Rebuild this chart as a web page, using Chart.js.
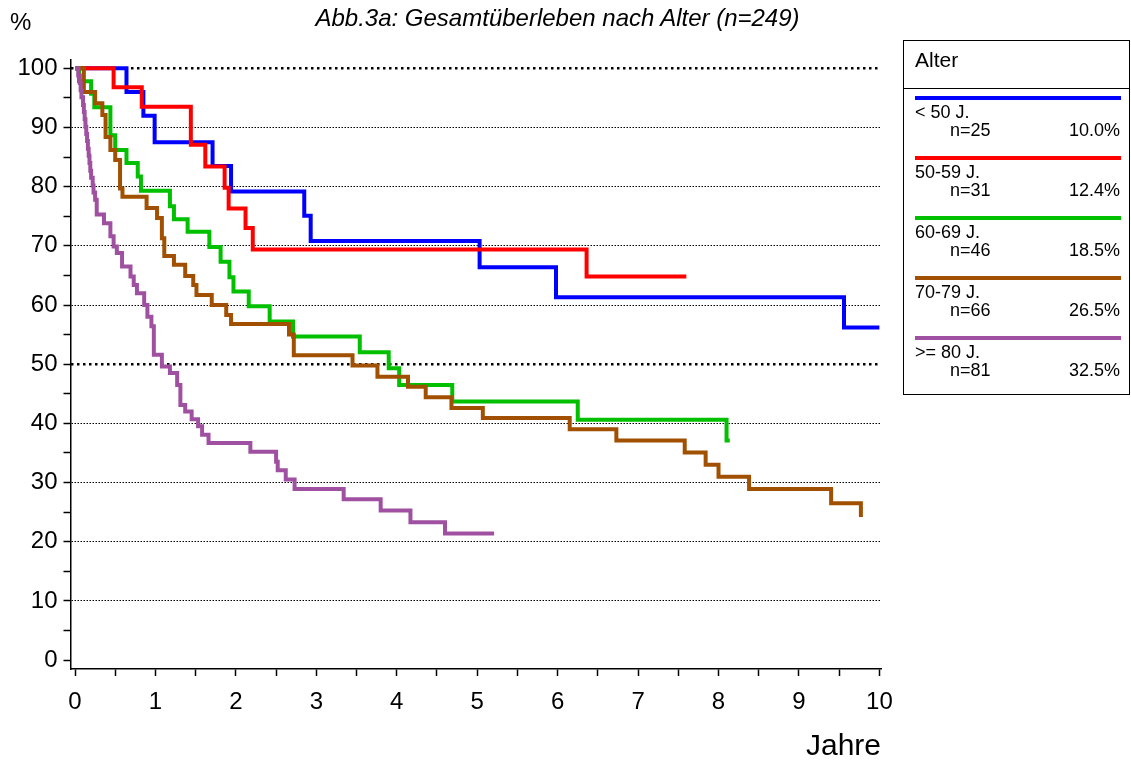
<!DOCTYPE html>
<html>
<head>
<meta charset="utf-8">
<title>Abb.3a Gesamtüberleben nach Alter</title>
<script src="https://cdn.jsdelivr.net/npm/chart.js@4.4.0/dist/chart.umd.min.js"></script>
<style>
body { margin: 0; background: #fff; }
#wrap { position: relative; width: 1131px; height: 765px; overflow: hidden; }
#wrap canvas { position: absolute; left: 0; top: 0; }
.narrow { font-family: 'Liberation Sans', Arial, sans-serif; color: #000; }
#pct { position: absolute; left: 10px; top: 8px; font-size: 24px; }
#title { position: absolute; left: 0; width: 1115px; top: 4px; text-align: center; font-size: 24px; font-style: italic; }
#legend { position: absolute; left: 903px; top: 40px; width: 225px; height: 353px; border: 1.5px solid #000;
          font-family: 'Liberation Sans', Arial, sans-serif; color: #000; }
#legend .head { position: absolute; left: 11px; top: 7px; font-size: 21px; }
#legend .sep { position: absolute; left: 0; right: 0; top: 47px; border-top: 1.5px solid #000; }
#legend .line { position: absolute; left: 11px; width: 206px; height: 4px; }
#legend .lab { position: absolute; left: 11px; font-size: 18px; }
#legend .n { position: absolute; left: 46px; font-size: 18px; }
#legend .p { position: absolute; right: 9px; font-size: 18px; }
</style>
</head>
<body>
<div id="wrap">
  <canvas id="km" width="1131" height="765"></canvas>
  <div id="pct" class="narrow">%</div>
  <div id="title" class="narrow">Abb.3a: Gesamtüberleben nach Alter (n=249)</div>
  <div id="legend"><div class="head">Alter</div><div class="sep"></div></div>
</div>
<script>
// Gruppen (Alter)
const groupLabels = ['< 50 J.', '50-59 J.', '60-69 J.', '70-79 J.', '>= 80 J.'];
const groupN = [25, 31, 46, 66, 81];
const groupPct = ['10.0%', '12.4%', '18.5%', '26.5%', '32.5%'];
const groupColors = ['#0000ff', '#ff0000', '#00c000', '#a05000', '#a050a0'];

// Achsen
const xTicks = [0, 0.5, 1, 1.5, 2, 2.5, 3, 3.5, 4, 4.5, 5, 5.5, 6, 6.5, 7, 7.5, 8, 8.5, 9, 9.5, 10];
const yTicks = [0, 5, 10, 15, 20, 25, 30, 35, 40, 45, 50, 55, 60, 65, 70, 75, 80, 85, 90, 95, 100];
const yBoldLines = [50, 100];

// Kaplan-Meier Stufen (Jahre / % Ueberleben)
const timeU50 = [0, 0.64, 0.85, 0.99, 1.71, 1.94, 2.85, 2.93, 5.03, 5.98, 9.56, 10.0];
const survU50 = [100, 96.0, 92.0, 87.5, 83.5, 79.2, 75.1, 70.8, 66.4, 61.3, 56.2, 56.2];

const time50 = [0, 0.48, 0.83, 1.44, 1.62, 1.86, 1.91, 2.12, 2.21, 6.36, 7.60];
const surv50 = [100, 96.8, 93.5, 87.1, 83.4, 79.8, 76.3, 73.0, 69.4, 64.8, 64.8];

const time60 = [0, 0.05, 0.20, 0.24, 0.44, 0.50, 0.64, 0.78, 0.82, 1.18, 1.23, 1.40, 1.67, 1.81, 1.92, 1.97,
                2.16, 2.42, 2.71, 3.54, 3.90, 4.03, 4.69, 6.25, 8.10, 8.14];
const surv60 = [100, 97.8, 95.7, 93.4, 88.7, 86.2, 84.0, 81.7, 79.3, 76.7, 74.5, 72.4, 69.8, 67.3, 64.7, 62.3,
                59.8, 57.2, 54.7, 52.0, 49.3, 46.5, 43.7, 40.6, 37.1, 37.1];

const time70 = [0, 0.11, 0.25, 0.34, 0.38, 0.44, 0.50, 0.56, 0.59, 0.89, 1.02, 1.08, 1.11, 1.23, 1.37, 1.47,
                1.51, 1.70, 1.88, 1.94, 2.66, 2.72, 3.45, 3.76, 4.14, 4.36, 4.68, 5.07, 6.15, 6.73, 7.58, 7.84,
                8.00, 8.38, 9.40, 9.77];
const surv70 = [100, 96.0, 94.1, 92.1, 88.4, 86.2, 84.5, 79.7, 78.3, 76.4, 74.7, 71.3, 68.3, 66.8, 64.9, 63.4,
                61.7, 60.0, 58.3, 56.8, 55.0, 51.5, 49.8, 47.9, 46.2, 44.4, 42.6, 40.9, 39.0, 37.1, 35.1, 33.0,
                31.0, 28.9, 26.5, 24.2];

const time80 = [0, 0.04, 0.06, 0.07, 0.08, 0.10, 0.11, 0.12, 0.13, 0.14, 0.15, 0.16, 0.17, 0.18, 0.19, 0.20,
                0.22, 0.23, 0.25, 0.27, 0.36, 0.44, 0.48, 0.52, 0.585, 0.69, 0.73, 0.77, 0.86, 0.90, 0.95, 0.98,
                1.08, 1.18, 1.27, 1.31, 1.37, 1.45, 1.53, 1.58, 1.66, 2.18, 2.50, 2.52, 2.62, 2.73, 3.34, 3.80,
                4.17, 4.60, 5.21];
const surv80 = [100, 98.8, 97.5, 96.3, 95.1, 93.8, 92.6, 91.4, 90.1, 88.9, 87.7, 86.4, 85.2, 84.0, 82.7, 81.5,
                80.2, 79.0, 77.8, 75.3, 73.8, 71.6, 69.9, 68.8, 66.5, 64.8, 63.4, 62.0, 60.0, 58.0, 56.4, 51.6,
                49.6, 48.5, 46.5, 43.1, 42.0, 40.7, 39.5, 38.1, 36.7, 35.2, 33.5, 32.1, 30.5, 28.9, 27.2, 25.3,
                23.3, 21.4, 21.4];

const allTimes = [timeU50, time50, time60, time70, time80];
const allSurv = [survU50, surv50, surv60, surv70, surv80];

function toPoints(t, s) {
    return t.map(function (v, i) { return {x: v, y: s[i]}; });
}

// Legende als HTML
var legend = document.getElementById('legend');
groupLabels.forEach(function (lab, i) {
    var top = 55 + i * 60;
    legend.insertAdjacentHTML('beforeend',
        '<div class="line" style="top:' + top + 'px;background:' + groupColors[i] + '"></div>' +
        '<div class="lab" style="top:' + (top + 6) + 'px">' + lab.replace('<', '&lt;').replace('>', '&gt;') + '</div>' +
        '<div class="n" style="top:' + (top + 24) + 'px">n=' + groupN[i] + '</div>' +
        '<div class="p" style="top:' + (top + 24) + 'px">' + groupPct[i] + '</div>');
});

Chart.defaults.font.family = "'Liberation Sans', Arial, sans-serif";
Chart.defaults.color = '#000';

var datasets = groupLabels.map(function (lab, i) {
    return {
        label: lab,
        data: toPoints(allTimes[i], allSurv[i]),
        borderColor: groupColors[i],
        borderWidth: 4,
        pointRadius: 0,
        stepped: 'before',
        fill: false
    };
}).reverse();

var ctx = document.getElementById('km').getContext('2d');
var kmChart = new Chart(ctx, {
    type: 'line',
    data: {datasets: datasets},
    options: {
        responsive: false,
        animation: false,
        layout: {padding: {top: 59.4, right: 250, left: 0, bottom: 0}},
        plugins: {legend: {display: false}, tooltip: {enabled: false}},
        scales: {
            x: {
                type: 'linear', min: -0.056, max: 10.02,
                afterBuildTicks: function (s) { s.ticks = xTicks.map(function (v) { return {value: v}; }); },
                afterFit: function (s) { s.height = 96; },
                ticks: {
                    autoSkip: false, maxRotation: 0, padding: 12, font: {size: 24},
                    callback: function (v) { return Number.isInteger(v) ? String(v) : ''; }
                },
                grid: {drawOnChartArea: false, tickLength: 7, tickColor: '#000', tickWidth: 1.5},
                border: {color: '#000', width: 1.5},
                title: {display: true, text: 'Jahre', align: 'end', font: {size: 30}, padding: 0}
            },
            y: {
                type: 'linear', min: -1.5, max: 101.5, weight: 1,
                afterBuildTicks: function (s) { s.ticks = yTicks.map(function (v) { return {value: v}; }); },
                afterFit: function (s) { s.width = 70.5; },
                ticks: {
                    autoSkip: false, padding: 6, font: {size: 24},
                    callback: function (v) { return v % 10 === 0 ? String(v) : ''; }
                },
                grid: {
                    color: function (c) {
                        var v = c.tick ? c.tick.value : 0;
                        return (v % 10 === 0 && v !== 0 && yBoldLines.indexOf(v) < 0) ? '#000' : 'rgba(0,0,0,0)';
                    },
                    lineWidth: 1, tickLength: 7, tickColor: '#000', tickWidth: 1.5
                },
                border: {color: '#000', width: 1.5, dash: [1.5, 1.5]}
            },
            y2: {
                type: 'linear', position: 'left', min: -1.5, max: 101.5, weight: 0,
                afterBuildTicks: function (s) { s.ticks = yBoldLines.map(function (v) { return {value: v}; }); },
                afterFit: function (s) { s.width = 0; },
                ticks: {display: false},
                grid: {color: '#000', lineWidth: 2.5, drawTicks: false, tickLength: 0},
                border: {display: false, dash: [2.5, 3.5]}
            }
        }
    }
});
</script>
</body>
</html>
